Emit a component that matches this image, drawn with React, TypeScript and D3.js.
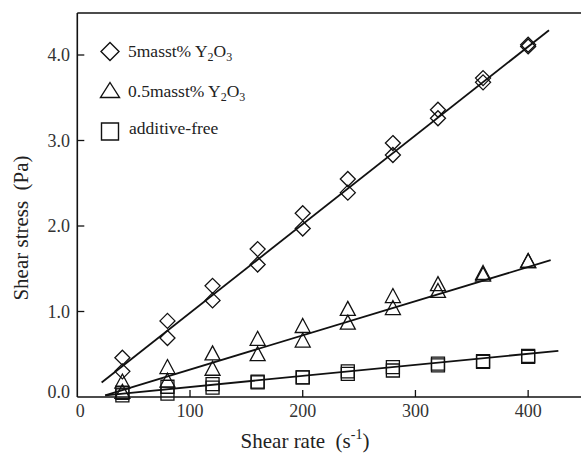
import React from "react";
import * as d3 from "d3";

const shearRates = [40, 80, 120, 160, 200, 240, 280, 320, 360, 400];
const y5Up = [0.46, 0.89, 1.30, 1.73, 2.15, 2.55, 2.97, 3.36, 3.73, 4.12];
const y5Down = [0.30, 0.69, 1.13, 1.55, 1.97, 2.39, 2.83, 3.26, 3.68, 4.10];
const y05Up = [0.17, 0.34, 0.50, 0.67, 0.82, 1.02, 1.17, 1.31, 1.44, 1.58];
const y05Down = [0.05, 0.18, 0.32, 0.49, 0.65, 0.86, 1.03, 1.23, 1.42, 1.58];
const yFreeUp = [0.05, 0.12, 0.15, 0.18, 0.23, 0.30, 0.35, 0.39, 0.42, 0.47];
const yFreeDown = [0.02, 0.04, 0.11, 0.17, 0.23, 0.27, 0.31, 0.37, 0.41, 0.48];

const fit5 = [[21.6, 0.17], [418.5, 4.29]];
const fit05 = [[24.7, 0.02], [420, 1.6]];
const fitFree = [[25, 0.02], [426.8, 0.54]];

const xTicks = [0, 100, 200, 300, 400];
const yTicks = [0, 1, 2, 3, 4];

const FONT = "Liberation Serif, Times New Roman, DejaVu Serif, serif";

const diamond = (cx: number, cy: number, r: number) =>
  `M${cx},${cy - r}L${cx + r},${cy}L${cx},${cy + r}L${cx - r},${cy}Z`;
const triangle = (cx: number, cy: number, w: number, h: number) =>
  `M${cx},${cy - h * 0.6}L${cx + w / 2},${cy + h * 0.4}L${cx - w / 2},${cy + h * 0.4}Z`;
const square = (cx: number, cy: number, s: number) =>
  `M${cx - s / 2},${cy - s / 2}h${s}v${s}h${-s}Z`;

export default function App() {
  const x = d3.scaleLinear().domain([0, 450]).range([77.3, 584.5]);
  const y = d3.scaleLinear().domain([0, 4]).range([397, 55]);
  const line = d3
    .line<number[]>()
    .x((d) => x(d[0]))
    .y((d) => y(d[1]));

  const left = x(0);
  const bottom = y(0);
  const top = 13;
  const ts = { fontFamily: FONT };

  const markers: React.ReactNode[] = [];
  shearRates.forEach((r, i) => {
    [yFreeUp[i], yFreeDown[i]].forEach((v, j) =>
      markers.push(
        <path key={`s${i}${j}`} d={square(x(r), y(v), 13)} fill="none" stroke="#111" strokeWidth={1.3} />
      )
    );
    [y05Up[i], y05Down[i]].forEach((v, j) =>
      markers.push(
        <path key={`t${i}${j}`} d={triangle(x(r), y(v), 15, 14)} fill="none" stroke="#111" strokeWidth={1.3} />
      )
    );
    [y5Up[i], y5Down[i]].forEach((v, j) =>
      markers.push(
        <path key={`d${i}${j}`} d={diamond(x(r), y(v), 7.5)} fill="none" stroke="#111" strokeWidth={1.3} />
      )
    );
  });

  return (
    <svg
      width={581}
      height={455}
      style={{ position: "absolute", left: 0, top: 0, background: "#fff", fontFamily: FONT }}
    >
      <rect width={581} height={455} fill="#fff" />
      {/* frame */}
      <line x1={left} x2={581} y1={top} y2={top} stroke="#111" strokeWidth={1.6} />
      <line x1={left} x2={left} y1={top} y2={bottom} stroke="#111" strokeWidth={1.6} />
      <line x1={left} x2={581} y1={bottom} y2={bottom} stroke="#111" strokeWidth={1.6} />
      {/* ticks */}
      {xTicks.map((t) => (
        <g key={`xt${t}`}>
          {t > 0 && <line x1={x(t)} x2={x(t)} y1={bottom} y2={bottom - 7} stroke="#111" strokeWidth={1.3} />}
          <text style={ts} x={x(t) + (t === 0 ? 3 : 0)} y={417} fontSize={18} textAnchor="middle" fill="#333">
            {t}
          </text>
        </g>
      ))}
      {yTicks.map((t) => (
        <g key={`yt${t}`}>
          {t > 0 && <line x1={left} x2={left + 7} y1={y(t)} y2={y(t)} stroke="#111" strokeWidth={1.3} />}
          <text style={ts} x={70} y={y(t) + 6 - (t === 0 ? 5 : 0)} fontSize={18} textAnchor="end" fill="#333">
            {t.toFixed(1)}
          </text>
        </g>
      ))}
      {/* axis titles */}
      <text
        transform="translate(28,228) rotate(-90)"
        fontSize={21}
        textAnchor="middle"
        fill="#222"
        style={{ whiteSpace: "pre", fontFamily: FONT }}
      >
        Shear stress  (Pa)
      </text>
      <text x={305} y={448} fontSize={21} textAnchor="middle" fill="#222" style={{ whiteSpace: "pre", fontFamily: FONT }}>
        <tspan>Shear rate  (s</tspan>
        <tspan fontSize={14} dy={-9}>-1</tspan>
        <tspan dy={9}>)</tspan>
      </text>
      {/* fit lines */}
      {[fit5, fit05, fitFree].map((f, i) => (
        <path key={`f${i}`} d={line(f) || ""} stroke="#111" strokeWidth={1.8} fill="none" />
      ))}
      {markers}
      {/* legend */}
      <path d={diamond(110, 51.5, 9)} fill="none" stroke="#111" strokeWidth={1.4} />
      <text style={ts} x={128} y={57} fontSize={17.5} fill="#222">
        <tspan>5masst% Y</tspan>
        <tspan fontSize={12} dy={4}>2</tspan>
        <tspan dy={-4}>O</tspan>
        <tspan fontSize={12} dy={4}>3</tspan>
      </text>
      <path d={triangle(110, 91.5, 19, 15)} fill="none" stroke="#111" strokeWidth={1.4} />
      <text style={ts} x={128} y={97} fontSize={17.5} fill="#222">
        <tspan>0.5masst% Y</tspan>
        <tspan fontSize={12} dy={4}>2</tspan>
        <tspan dy={-4}>O</tspan>
        <tspan fontSize={12} dy={4}>3</tspan>
      </text>
      <path d={square(110, 131.5, 17)} fill="none" stroke="#111" strokeWidth={1.4} />
      <text style={ts} x={129} y={134} fontSize={17.5} fill="#222">
        additive-free
      </text>
    </svg>
  );
}
